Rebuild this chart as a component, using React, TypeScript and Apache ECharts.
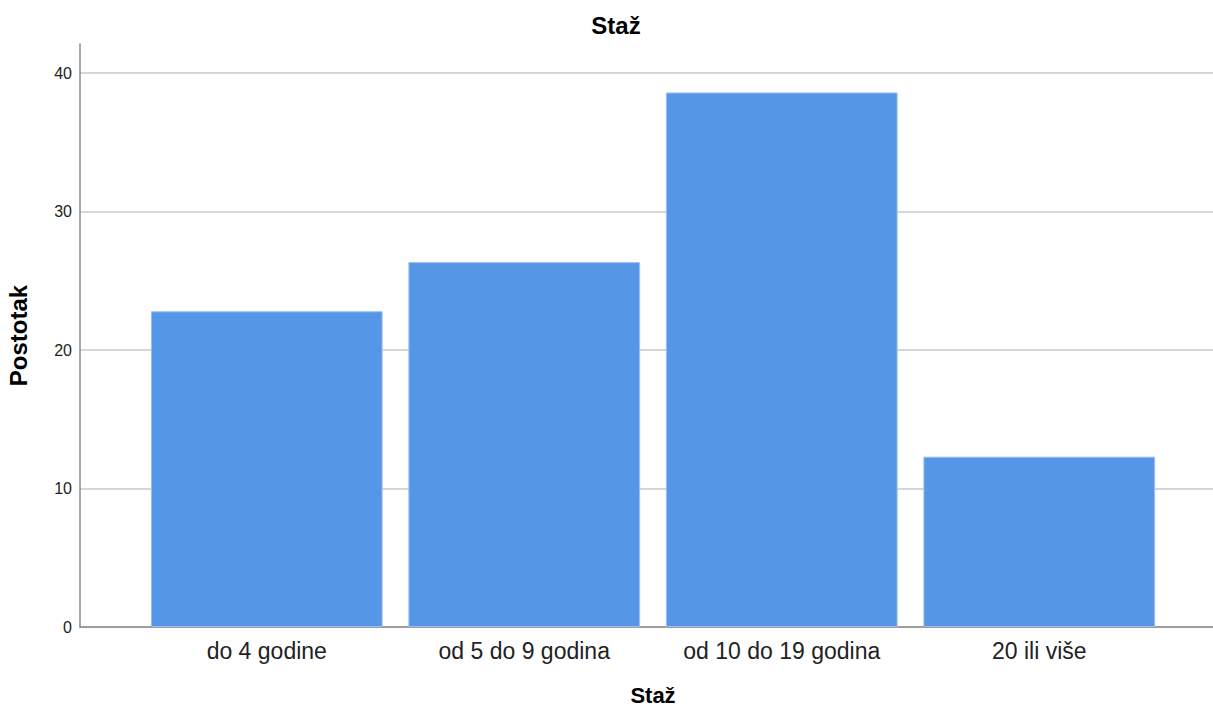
import React, { useEffect, useRef } from "react";
import * as echarts from "echarts";

const categories = ["do 4 godine", "od 5 do 9 godina", "od 10 do 19 godina", "20 ili više"];
const percentages = [22.8, 26.35, 38.6, 12.3];
const yTicks = { min: 0, max: 42.1, interval: 10 };
const chartTitle = "Staž";
const xName = "Staž";
const yName = "Postotak";

const FONT = "'Liberation Sans', Arial, sans-serif";

export default function App() {
  const ref = useRef<HTMLDivElement>(null);
  useEffect(() => {
    if (!ref.current) return;
    const chart = echarts.init(ref.current, undefined, { renderer: "svg" });
    chart.setOption({
      animation: false,
      backgroundColor: "#ffffff",
      textStyle: { fontFamily: FONT },
      title: {
        text: chartTitle,
        left: 611,
        top: 8,
        textAlign: "center",
        textStyle: { fontFamily: FONT, fontSize: 24, fontWeight: "bold", color: "#000" },
      },
      grid: [
        { left: 80, right: 0, top: 44, bottom: 81, containLabel: false, outerBoundsMode: "none" },
        { left: 138, right: 45, top: 44, bottom: 81, containLabel: false, outerBoundsMode: "none" },
      ],
      xAxis: [
        {
          gridIndex: 0,
          type: "value",
          min: 0,
          max: 1,
          axisLine: { show: true, onZero: false, lineStyle: { color: "#8a8a8a", width: 1.5 } },
          axisTick: { show: false },
          axisLabel: { show: false },
          splitLine: { show: false },
        },
        {
          gridIndex: 1,
          type: "category",
          data: categories,
          axisLine: { show: false },
          axisTick: { show: false },
          axisLabel: { fontFamily: FONT, fontSize: 23, color: "#222", margin: 12 },
          splitLine: { show: false },
          name: xName,
          nameLocation: "middle",
          nameGap: 57,
          nameTextStyle: { fontFamily: FONT, fontSize: 22, fontWeight: "bold", color: "#000" },
        },
      ],
      yAxis: [
        {
          gridIndex: 0,
          type: "value",
          min: yTicks.min,
          max: yTicks.max,
          interval: yTicks.interval,
          axisLine: { show: true, lineStyle: { color: "#8a8a8a", width: 1.5 } },
          axisTick: { show: false },
          axisLabel: { fontFamily: FONT, fontSize: 16, color: "#222", margin: 8, showMaxLabel: false },
          splitLine: { show: true, showMaxLine: false, lineStyle: { color: "#c8c8c8", width: 1.5 } },
          name: yName,
          nameLocation: "middle",
          nameGap: 50,
          nameTextStyle: { fontFamily: FONT, fontSize: 24, fontWeight: "bold", color: "#000" },
        },
        {
          gridIndex: 1,
          type: "value",
          min: yTicks.min,
          max: yTicks.max,
          show: false,
          splitLine: { show: false },
        },
      ],
      series: [
        {
          type: "bar",
          xAxisIndex: 1,
          yAxisIndex: 1,
          data: percentages,
          barCategoryGap: "10%",
          itemStyle: { color: "#5596e6", borderColor: "#9cc0ef", borderWidth: 1 },
        },
      ],
    });
    return () => chart.dispose();
  }, []);
  return (
    <div
      ref={ref}
      style={{ position: "absolute", left: 0, top: 0, width: 1213, height: 708, background: "#fff" }}
    />
  );
}
